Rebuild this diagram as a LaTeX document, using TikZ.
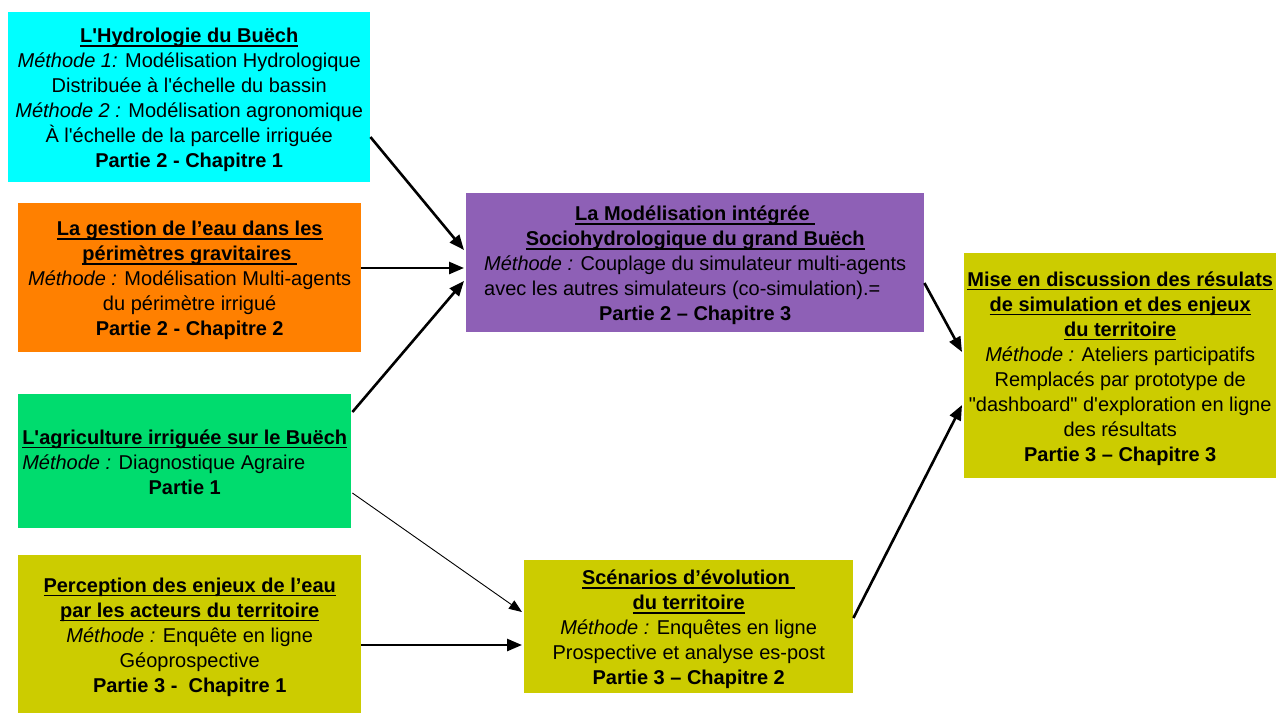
\documentclass[tikz,border=0pt]{standalone}
\usepackage{fontspec}
\setmainfont{Liberation Sans}[Ligatures=TeXOff]
\usetikzlibrary{arrows.meta,calc}
\newsavebox{\ulbox}
\newcommand{\myul}[1]{\sbox{\ulbox}{#1}\rlap{\rule[-3.8pt]{\wd\ulbox}{1.3pt}}\usebox{\ulbox}}
\definecolor{cyanbox}{HTML}{00FFFF}
\definecolor{orangebox}{HTML}{FF8000}
\definecolor{greenbox}{HTML}{00DC6E}
\definecolor{olivebox}{HTML}{CCCC00}
\definecolor{purplebox}{HTML}{8E60B6}
\newcommand{\boxtext}[1]{\raisebox{-3pt}[\height][\depth]{\begin{tabular}{@{}c@{}}#1\end{tabular}}}
\begin{document}
\begin{tikzpicture}[x=1pt,y=-1pt,
  box/.style={rectangle, inner sep=0pt, anchor=north west, font=\fontsize{20}{25}\selectfont},
  arr/.style={-{Triangle[length=15pt,width=12pt]}, line width=2.6pt, black},
  thinarr/.style={-{Triangle[length=13pt,width=10pt]}, line width=0.9pt, black}]
\useasboundingbox (0,0) rectangle (1276,713);
\fill[white] (0,0) rectangle (1276,713);

\node[box, fill=cyanbox, minimum width=362pt, minimum height=170pt] (hydro) at (8,12)
 {\boxtext{\textbf{\myul{L'Hydrologie du Buëch}}\\
 \textit{Méthode 1:} Modélisation Hydrologique\\
 Distribuée à l'échelle du bassin\\
 \textit{Méthode 2 :} Modélisation agronomique\\
 À l'échelle de la parcelle irriguée\\
 \textbf{Partie 2 - Chapitre 1}}};

\node[box, fill=orangebox, minimum width=343pt, minimum height=149pt] (gestion) at (18,203)
 {\boxtext{\textbf{\myul{La gestion de l’eau dans les}}\\
 \textbf{\myul{périmètres gravitaires\ }}\\
 \textit{Méthode :} Modélisation Multi-agents\\
 du périmètre irrigué\\
 \textbf{Partie 2 - Chapitre 2}}};

\node[box, fill=greenbox, minimum width=333pt, minimum height=134pt] (agri) at (18,394)
 {\boxtext{\textbf{\myul{L'agriculture irriguée sur le Buëch}}\\
 \multicolumn{1}{@{}l@{}}{\textit{Méthode :} Diagnostique Agraire}\\
 \textbf{Partie 1}}};

\node[box, fill=olivebox, minimum width=343pt, minimum height=158pt] (percep) at (18,555)
 {\boxtext{\textbf{\myul{Perception des enjeux de l’eau}}\\
 \textbf{\myul{par les acteurs du territoire}}\\
 \textit{Méthode :} Enquête en ligne\\
 Géoprospective\\
 \textbf{Partie 3 -\ \ Chapitre 1}}};

\node[box, fill=purplebox, minimum width=458pt, minimum height=139pt] (model) at (466,193)
 {\boxtext{\textbf{\myul{La Modélisation intégrée\ }}\\
 \textbf{\myul{Sociohydrologique du grand Buëch}}\\
 \textit{Méthode :} Couplage du simulateur multi-agents\\
 \multicolumn{1}{@{}l@{}}{avec les autres simulateurs (co-simulation).=}\\
 \textbf{Partie 2 – Chapitre 3}}};

\node[box, fill=olivebox, minimum width=329pt, minimum height=133pt] (scen) at (524,560)
 {\boxtext{\textbf{\myul{Scénarios d’évolution\ }}\\
 \textbf{\myul{du territoire}}\\
 \textit{Méthode :} Enquêtes en ligne\\
 Prospective et analyse es-post\\
 \textbf{Partie 3 – Chapitre 2}}};

\node[box, fill=olivebox, minimum width=312pt, minimum height=225pt] (mise) at (964,253)
 {\boxtext{\textbf{\myul{Mise en discussion des résulats}}\\
 \textbf{\myul{de simulation et des enjeux}}\\
 \textbf{\myul{du territoire}}\\
 \textit{Méthode :} Ateliers participatifs\\
 Remplacés par prototype de\\
 "dashboard" d'exploration en ligne\\
 des résultats\\
 \textbf{Partie 3 – Chapitre 3}}};

\draw[arr] ($(hydro.north east)+(0,125)$) -- ($(model.north west)+(-2,57)$);
\draw[arr] ($(gestion.north east)+(0,65)$) -- ($(model.north west)+(-2,75)$);
\draw[arr] ($(agri.north east)+(1,18)$) -- ($(model.north west)+(-2,88)$);
\draw[thinarr] ($(agri.north east)+(1,99)$) -- ($(scen.north west)+(-2,52)$);
\draw[arr] ($(percep.north east)+(0,90)$) -- ($(scen.north west)+(-2,85)$);
\draw[arr] ($(model.north east)+(0,90)$) -- ($(mise.north west)+(-2,99)$);
\draw[arr] ($(scen.north east)+(0,58)$) -- ($(mise.north west)+(-2,152)$);
\end{tikzpicture}
\end{document}
